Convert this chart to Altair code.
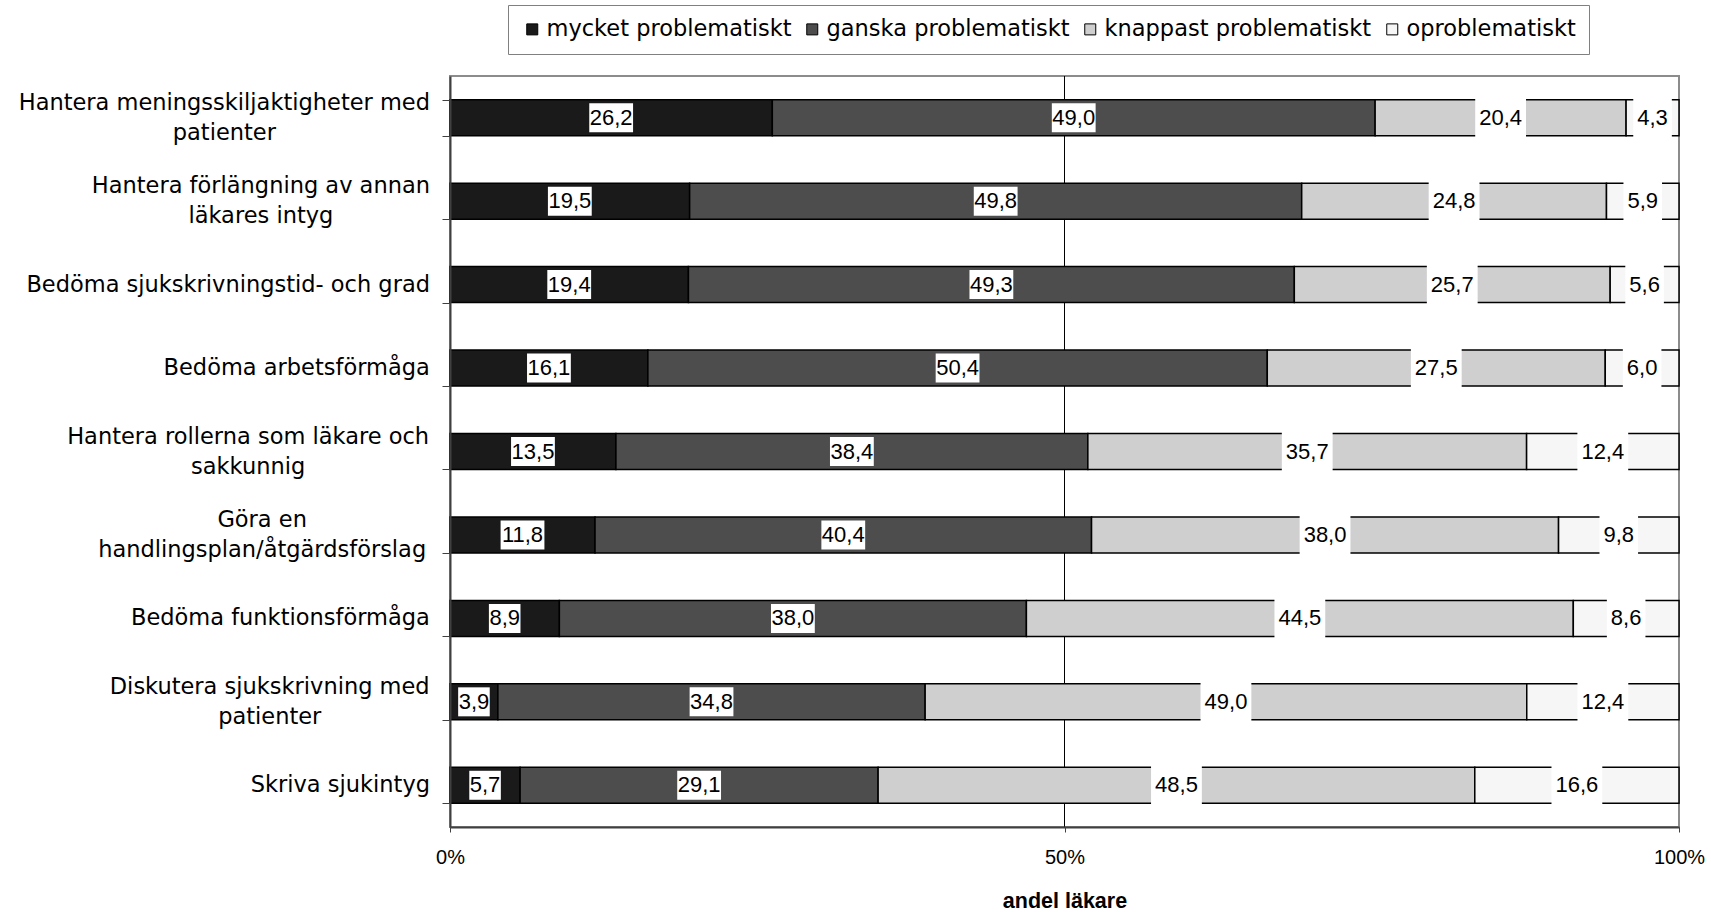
import altair as alt
import pandas as pd

# Survey items (top to bottom); "\n" marks the line break of the label
categories = [
    "Hantera meningsskiljaktigheter med\npatienter",
    "Hantera förlängning av annan\nläkares intyg",
    "Bedöma sjukskrivningstid- och grad",
    "Bedöma arbetsförmåga",
    "Hantera rollerna som läkare och\nsakkunnig",
    "Göra en\nhandlingsplan/åtgärdsförslag ",
    "Bedöma funktionsförmåga",
    "Diskutera sjukskrivning med\npatienter",
    "Skriva sjukintyg",
]
levels = ["mycket problematiskt", "ganska problematiskt",
          "knappast problematiskt", "oproblematiskt"]

# Share of physicians (%) per answer
mycket = [26.2, 19.5, 19.4, 16.1, 13.5, 11.8, 8.9, 3.9, 5.7]
ganska = [49.0, 49.8, 49.3, 50.4, 38.4, 40.4, 38.0, 34.8, 29.1]
knappast = [20.4, 24.8, 25.7, 27.5, 35.7, 38.0, 44.5, 49.0, 48.5]
oproblematiskt = [4.3, 5.9, 5.6, 6.0, 12.4, 9.8, 8.6, 12.4, 16.6]

fills = ["#1a1a1a", "#4d4d4d", "#cfcfcf", "#f6f6f6"]

PLOT_W, PLOT_H = 1229, 751
PX = 100.0 / PLOT_W          # data units per pixel on the x scale

# approximate advance widths (em) used to size label boxes / centre text blocks
SANS = {ch: 0.556 for ch in "0123456789"}
SANS.update({",": 0.278, ".": 0.278})
DEJAVU = {
    " ": 0.318, "a": 0.613, "b": 0.635, "c": 0.550, "d": 0.635, "e": 0.615,
    "f": 0.352, "g": 0.635, "h": 0.634, "i": 0.278, "j": 0.278, "k": 0.579,
    "l": 0.278, "m": 0.974, "n": 0.634, "o": 0.612, "p": 0.635, "r": 0.411,
    "s": 0.521, "t": 0.392, "u": 0.634, "v": 0.592, "y": 0.592, "ä": 0.613,
    "å": 0.613, "ö": 0.612, "H": 0.752, "B": 0.686, "D": 0.770, "G": 0.779,
    "S": 0.635, "-": 0.361, "/": 0.337,
}


def text_width(s, table, size):
    return sum(table.get(ch, 0.6) for ch in s) * size


VAL_FONT = 22
CAT_FONT = 22.5
LINE_H = 30

series = [mycket, ganska, knappast, oproblematiskt]
rows = []
for i, cat in enumerate(categories):
    vals = [s[i] for s in series]
    total = sum(vals)
    acc = 0.0
    for lev, v in zip(levels, vals):
        start = acc / total * 100
        acc += v
        end = acc / total * 100
        lab = f"{v:.1f}".replace(".", ",")
        light = lev in levels[2:]
        half = (text_width(lab, SANS, VAL_FONT) + (8 if light else 1)) / 2 * PX
        mid = (start + end) / 2
        rows.append(dict(cat=cat, level=lev, value=v, start=start, end=end,
                         mid=mid, label=lab, box_l=mid - half, box_r=mid + half,
                         box_h=40 if light else 29))
seg = pd.DataFrame(rows)

cat_rows = []
for cat in categories:
    lines = cat.split("\n")
    w = max(text_width(line, DEJAVU, CAT_FONT) for line in lines)
    cat_rows.append(dict(cat=cat, lx=-(20 + w / 2) * PX, nlines=len(lines)))
catdf = pd.DataFrame(cat_rows)

xscale = alt.Scale(domain=[0, 100], nice=False, zero=False)
xaxis = alt.Axis(
    values=[0, 50, 100], labelExpr="datum.value + '%'", title="andel läkare",
    grid=False, domainColor="#404040", domainWidth=2, tickColor="#404040",
    tickSize=5, labelFont="Liberation Sans", labelFontSize=20,
    labelColor="black", labelBaseline="middle", labelPadding=25,
    labelFlush=False, titleFont="Liberation Sans", titleFontSize=21.5,
    titleFontWeight="bold", titleColor="black", titleY=74,
    titleBaseline="middle", zindex=1,
)
yenc = alt.Y(
    "cat:N", sort=categories,
    scale=alt.Scale(domain=categories, paddingInner=0.57, paddingOuter=0.285),
    axis=alt.Axis(labels=False, title=None, tickBand="extent", tickSize=8,
                  tickColor="#404040", domainColor="#404040", domainWidth=2,
                  grid=False, zindex=1),
)

grid = alt.Chart(pd.DataFrame({"v": [50]})).mark_rule(
    color="black", strokeWidth=1
).encode(x=alt.X("v:Q", scale=xscale, axis=xaxis))

bars = alt.Chart(seg).mark_bar(size=36, stroke="black", strokeWidth=1.5).encode(
    x=alt.X("start:Q", scale=xscale, axis=xaxis),
    x2="end:Q",
    y=yenc,
    color=alt.Color(
        "level:N",
        scale=alt.Scale(domain=levels, range=fills),
        legend=alt.Legend(
            title=None, orient="none", legendX=58, legendY=-71,
            direction="horizontal", columns=4, symbolType="square",
            symbolSize=121, symbolStrokeColor="black", symbolStrokeWidth=1,
            labelFont="DejaVu Sans", labelFontSize=22.5, labelColor="black",
            labelLimit=0, labelOffset=3, columnPadding=9, padding=13,
            strokeColor="#808080", fillColor="white",
        ),
    ),
)

boxes = alt.Chart(seg).mark_bar(fill="white").encode(
    x=alt.X("box_l:Q", scale=xscale, axis=xaxis),
    x2="box_r:Q",
    y=yenc,
    size=alt.Size("box_h:Q", scale=None, legend=None),
)

values = alt.Chart(seg).mark_text(
    font="Liberation Sans", fontSize=VAL_FONT, color="black",
    align="center", baseline="middle",
).encode(
    x=alt.X("mid:Q", scale=xscale, axis=xaxis),
    y=yenc,
    text="label:N",
)


def cat_layer(n):
    # text blocks centred on their band: shift up by half the extra lines
    return alt.Chart(catdf).transform_filter(
        alt.datum.nlines == n
    ).mark_text(
        font="DejaVu Sans", fontSize=CAT_FONT, color="black", align="center",
        baseline="middle", lineBreak="\n", lineHeight=LINE_H,
        dy=-(n - 1) * LINE_H / 2,
    ).encode(
        x=alt.X("lx:Q", scale=xscale, axis=xaxis),
        y=yenc,
        text="cat:N",
    )


chart = alt.layer(grid, bars, boxes, values, cat_layer(1), cat_layer(2)).properties(
    width=PLOT_W, height=PLOT_H,
    autosize=alt.AutoSizeParams(type="none"),
    padding={"left": 450, "top": 76, "right": 32, "bottom": 85},
    background="white",
).configure_view(stroke="#8c8c8c", strokeWidth=2)

chart.save("out.html", embed_options={"renderer": "svg", "actions": False})
